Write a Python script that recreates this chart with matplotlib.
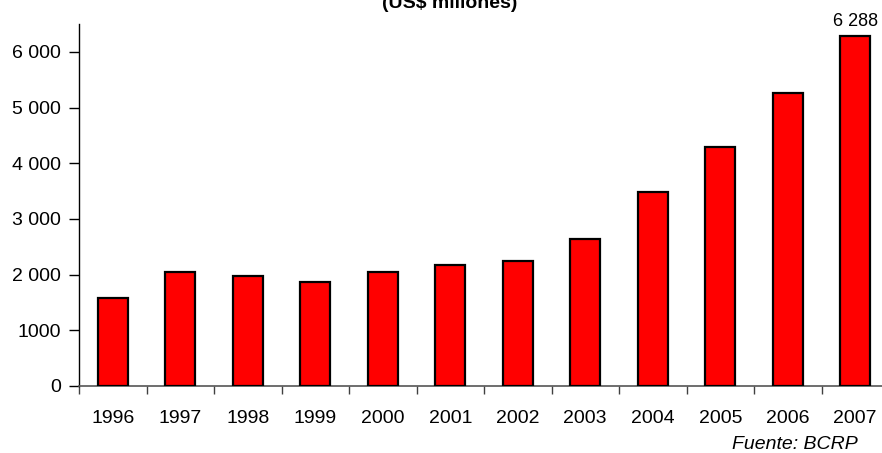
import matplotlib
matplotlib.use("Agg")
import matplotlib.pyplot as plt
import numpy as np

years = ["1996", "1997", "1998", "1999", "2000", "2001", "2002", "2003", "2004", "2005", "2006", "2007"]
values = [1585, 2047, 1980, 1862, 2047, 2167, 2250, 2634, 3483, 4296, 5260, 6288]
ytick_vals = [0, 1000, 2000, 3000, 4000, 5000, 6000]
ytick_labels = ["0", "1000", "2 000", "3 000", "4 000", "5 000", "6 000"]
title = "(US$ millones)"
source = "Fuente: BCRP"
last_label = "6 288"

plt.rcParams['font.family'] = ['Liberation Sans', 'DejaVu Sans']

W, H = 882, 453
fig = plt.figure(figsize=(W / 100, H / 100), dpi=100)
ax = fig.add_axes([79 / W, (H - 386) / H, 810 / W, 362 / H])

x = np.arange(len(years))
ax.bar(x, values, width=0.45, color="#ff0000", edgecolor="black", linewidth=1.6, zorder=3)

ax.set_xlim(-0.5, len(years) - 0.5)
ax.set_ylim(0, 6500)

ax.set_yticks(ytick_vals)
ax.set_yticklabels(ytick_labels, fontsize=14)
ax.set_xticks(x)
ax.set_xticklabels(years, fontsize=14)
ax.set_xticks(np.arange(len(years) + 1) - 0.5, minor=True)
ax.tick_params(axis='x', which='major', length=0, pad=17)
ax.tick_params(axis='x', which='minor', length=6, width=1, color='#404040', direction='out')
ax.tick_params(axis='y', which='major', length=7, width=1, direction='out', pad=6)

for s in ['top', 'right']:
    ax.spines[s].set_visible(False)
ax.spines['left'].set_color('black')
ax.spines['left'].set_linewidth(1)
ax.spines['bottom'].set_color('#555555')
ax.spines['bottom'].set_linewidth(1.2)

ax.annotate(last_label, (x[-1], values[-1]), xytext=(0, 4), textcoords='offset points',
            ha='center', va='bottom', fontsize=13)

fig.text(450 / W, 1 - 8 / H, title, ha='center', va='baseline', fontsize=14, fontweight='bold')
fig.text(858 / W, 1 - 449 / H, source, ha='right', va='baseline', fontsize=14, style='italic')

fig.savefig("out.png", dpi=100)
